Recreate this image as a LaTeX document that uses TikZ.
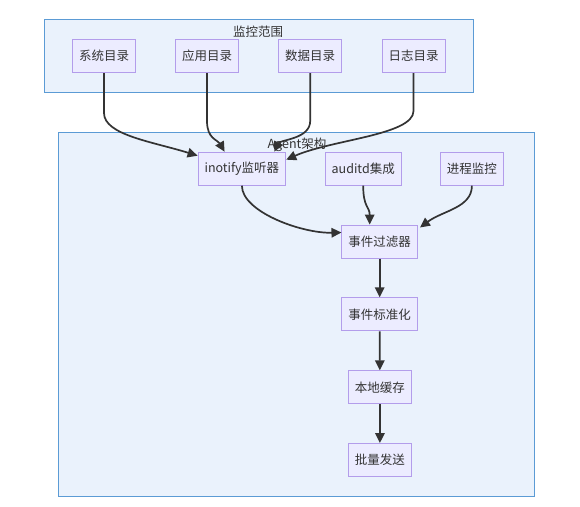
\documentclass[tikz,border=0pt]{standalone}
\usepackage{fontspec}
\setmainfont{Noto Sans CJK SC}
\usetikzlibrary{arrows.meta,calc}
\definecolor{clfill}{HTML}{EAF2FC}
\definecolor{cldraw}{HTML}{5B9BD5}
\definecolor{ndfill}{HTML}{ECECFF}
\definecolor{nddraw}{HTML}{B39DEB}
\definecolor{edge}{HTML}{333333}
\tikzset{
  cluster/.style={fill=clfill,draw=cldraw,line width=0.9pt},
  nd/.style={rectangle,fill=ndfill,draw=nddraw,line width=1pt,minimum height=33pt,inner xsep=6.5pt,font=\fontsize{12.5}{14}\selectfont,text=black!80},
  ttl/.style={font=\fontsize{12.5}{14}\selectfont,text=black!80,inner sep=0pt},
  arr/.style={draw=edge,line width=1.7pt,-{Triangle[length=10pt,width=9.5pt]}},
}
\begin{document}
\begin{tikzpicture}[x=1pt,y=-1pt]
\useasboundingbox (0,0) rectangle (580,506);
\fill[white] (0,0) rectangle (580,506);
\draw[cluster] (44.3,19.3) rectangle (473,92.3);
\draw[cluster] (58.3,132.3) rectangle (534,496);
\node[ttl] (t1) at (258,32) {监控范围};
\node[ttl] (t2) at (297,144.5) {Agent架构};
\node[nd] (s1) at (104,56) {系统目录};
\node[nd] (s2) at (207,56) {应用目录};
\node[nd] (s3) at (310.2,56) {数据目录};
\node[nd] (s4) at (413.5,56) {日志目录};
\node[nd] (ino) at (241.9,168.7) {inotify监听器};
\node[nd] (aud) at (363.2,168.7) {auditd集成};
\node[nd] (proc) at (471.9,168.7) {进程监控};
\node[nd] (flt) at (379.7,241.5) {事件过滤器};
\node[nd] (norm) at (379.7,314.3) {事件标准化};
\node[nd] (cache) at (379.9,387.3) {本地缓存};
\node[nd] (send) at (379.9,460) {批量发送};
\draw[arr] (s1.south) -- ++(0,40) .. controls ++(0,22) and ($(ino.north west)+(-45,-10)$) .. ($(ino.north west)+(0,4)$);
\draw[arr] (s2.south) -- ++(0,48) .. controls ++(0,18) and ($(ino.north west)+(20,-12)$) .. ($(ino.north west)+(27,0)$);
\draw[arr] (s3.south) -- ++(0,48) .. controls ++(0,18) and ($(ino.north east)+(-6,-12)$) .. ($(ino.north east)+(-12,0)$);
\draw[arr] (s4.south) -- ++(0,38) .. controls ++(0,24) and ($(ino.north east)+(45,-12)$) .. ($(ino.north east)+(0,8)$);
\draw[arr] (ino.south) .. controls ++(0,26) and ($(flt.west)+(-40,-8)$) .. ($(flt.west)+(0,-9)$);
\draw[arr] (aud.south) .. controls ++(0,22) and ($(flt.north)+(-10,-18)$) .. ($(flt.north)+(-10,0)$);
\draw[arr] (proc.south) .. controls ++(0,22) and ($(flt.north east)+(25,-14)$) .. ($(flt.north east)+(2,3)$);
\draw[arr] (flt) -- (norm);
\draw[arr] (norm) -- (cache);
\draw[arr] (cache) -- (send);
\end{tikzpicture}
\end{document}
